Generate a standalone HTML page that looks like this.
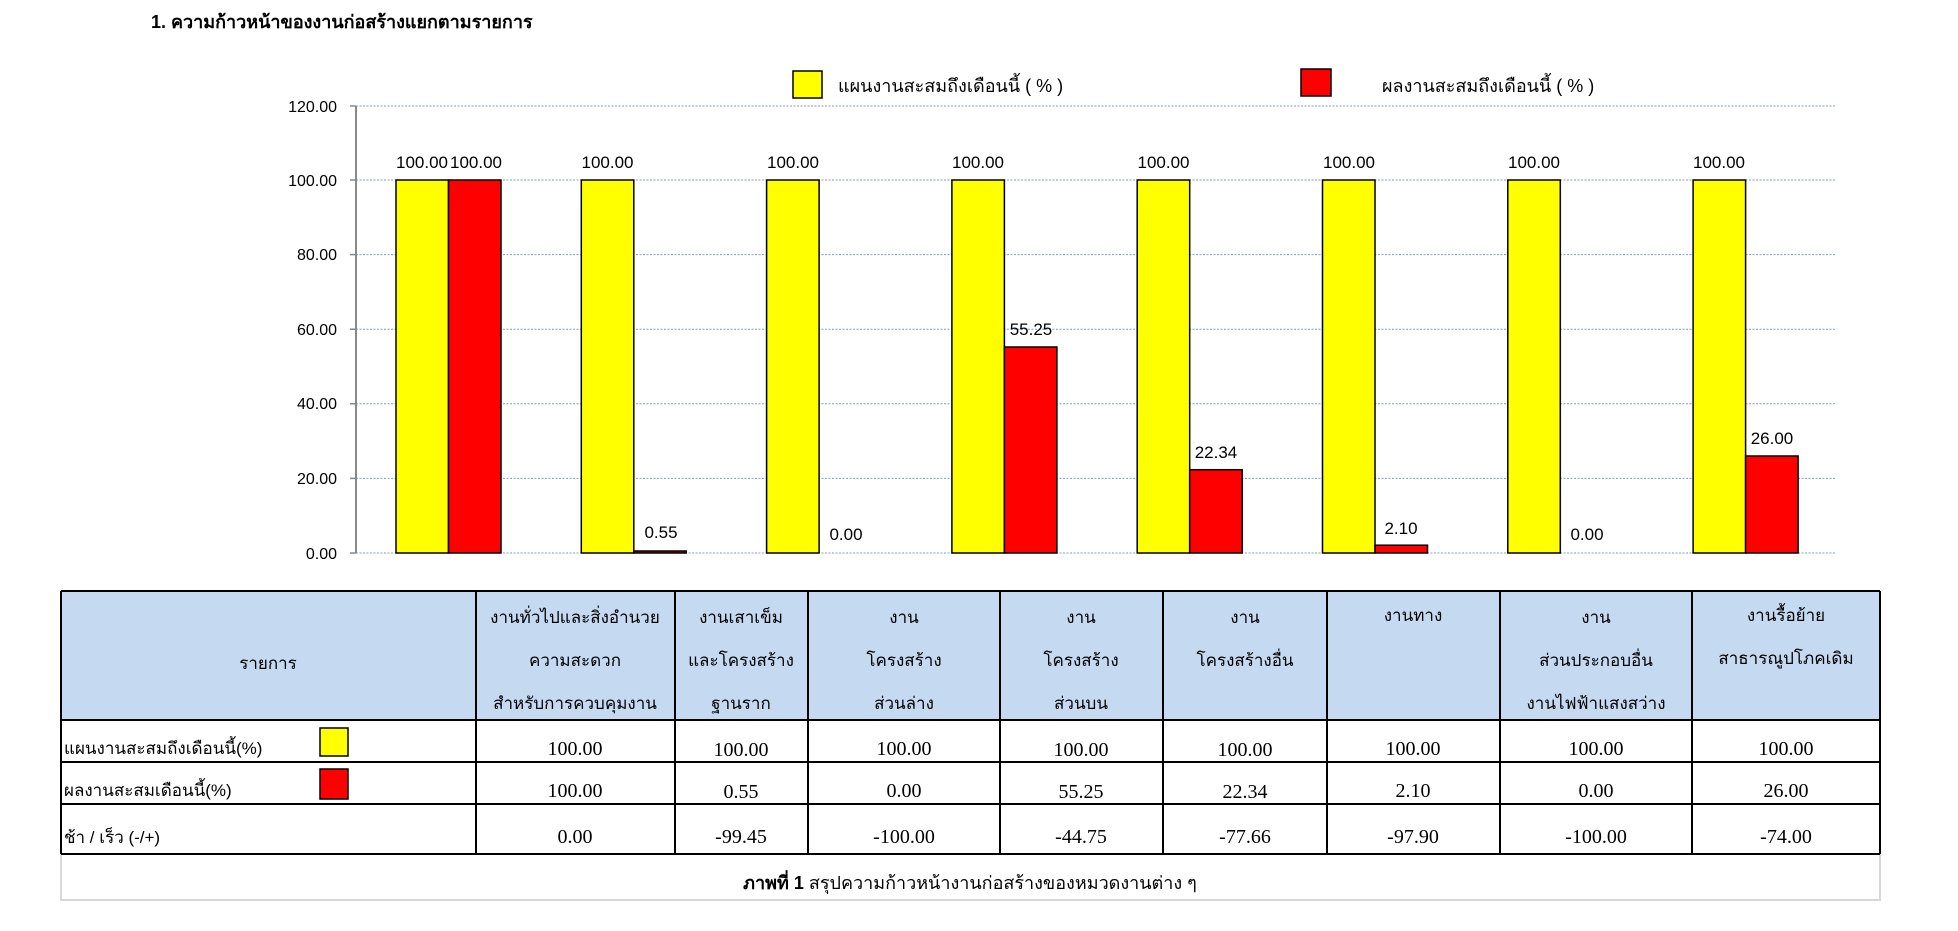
<!DOCTYPE html>
<html><head><meta charset="utf-8"><style>
html,body{margin:0;padding:0;background:#fff;}
svg{display:block;font-family:"Liberation Sans","DejaVu Sans",sans-serif;}
.t{font-family:"Liberation Serif","DejaVu Sans",serif;}
</style></head><body>
<svg width="1958" height="931" viewBox="0 0 1958 931" xmlns="http://www.w3.org/2000/svg">
<text x="151" y="28" font-size="18" font-weight="bold" fill="#000">1. ความก้าวหน้าของงานก่อสร้างแยกตามรายการ</text>
<rect x="793" y="71" width="29" height="27" fill="#ffff00" stroke="#000" stroke-width="1.5"/>
<text x="838" y="92" font-size="18">แผนงานสะสมถึงเดือนนี้ ( % )</text>
<rect x="1301" y="69" width="30" height="27" fill="#ff0000" stroke="#000" stroke-width="1.5"/>
<text x="1382" y="92" font-size="18">ผลงานสะสมถึงเดือนนี้ ( % )</text>
<g stroke="#7f9fbf" stroke-width="1" stroke-dasharray="2,1.5">
<line x1="356" y1="106" x2="1836" y2="106"/>
<line x1="356" y1="180" x2="1836" y2="180"/>
<line x1="356" y1="254.6" x2="1836" y2="254.6"/>
<line x1="356" y1="329.2" x2="1836" y2="329.2"/>
<line x1="356" y1="403.8" x2="1836" y2="403.8"/>
<line x1="356" y1="478.4" x2="1836" y2="478.4"/>
<line x1="356" y1="553" x2="1836" y2="553"/>
</g>
<line x1="356" y1="106" x2="356" y2="553" stroke="#888" stroke-width="2"/>
<g stroke="#888" stroke-width="1.5">
<line x1="350" y1="106" x2="356" y2="106"/><line x1="350" y1="180" x2="356" y2="180"/><line x1="350" y1="254.6" x2="356" y2="254.6"/><line x1="350" y1="329.2" x2="356" y2="329.2"/><line x1="350" y1="403.8" x2="356" y2="403.8"/><line x1="350" y1="478.4" x2="356" y2="478.4"/><line x1="350" y1="553" x2="356" y2="553"/>
</g>
<g font-size="16" text-anchor="end">
<text x="337" y="112">120.00</text><text x="337" y="186">100.00</text><text x="337" y="260">80.00</text><text x="337" y="335">60.00</text><text x="337" y="409">40.00</text><text x="337" y="484">20.00</text><text x="337" y="559">0.00</text>
</g>
<g stroke="#000" stroke-width="1.5">
<rect x="396" y="180" width="52.5" height="373" fill="#ffff00"/><rect x="448.5" y="180" width="52.5" height="373" fill="#ff0000"/>
<rect x="581.3" y="180" width="52.5" height="373" fill="#ffff00"/><rect x="633.8" y="551" width="52.5" height="2" fill="#ff0000"/>
<rect x="766.6" y="180" width="52.5" height="373" fill="#ffff00"/>
<rect x="951.9" y="180" width="52.5" height="373" fill="#ffff00"/><rect x="1004.4" y="347" width="52.5" height="206" fill="#ff0000"/>
<rect x="1137.2" y="180" width="52.5" height="373" fill="#ffff00"/><rect x="1189.7" y="469.7" width="52.5" height="83.3" fill="#ff0000"/>
<rect x="1322.5" y="180" width="52.5" height="373" fill="#ffff00"/><rect x="1375" y="545.2" width="52.5" height="7.8" fill="#ff0000"/>
<rect x="1507.8" y="180" width="52.5" height="373" fill="#ffff00"/>
<rect x="1693.1" y="180" width="52.5" height="373" fill="#ffff00"/><rect x="1745.6" y="456" width="52.5" height="97" fill="#ff0000"/>
</g>
<g font-size="17" text-anchor="middle">
<text x="422" y="168">100.00</text><text x="476" y="168">100.00</text>
<text x="607.5" y="168">100.00</text><text x="661" y="538">0.55</text>
<text x="793" y="168">100.00</text><text x="846" y="540">0.00</text>
<text x="978" y="168">100.00</text><text x="1031" y="335">55.25</text>
<text x="1163.5" y="168">100.00</text><text x="1216" y="458">22.34</text>
<text x="1349" y="168">100.00</text><text x="1401" y="534">2.10</text>
<text x="1534" y="168">100.00</text><text x="1587" y="540">0.00</text>
<text x="1719" y="168">100.00</text><text x="1772" y="444">26.00</text>
</g>
<rect x="61" y="591" width="1819" height="129" fill="#c5d9f1"/>
<rect x="61" y="720" width="1819" height="180" fill="none" stroke="#d8d8d8" stroke-width="2"/>
<g stroke="#000" stroke-width="2" fill="none">
<line x1="61" y1="591" x2="1880" y2="591"/>
<line x1="61" y1="720" x2="1880" y2="720"/>
<line x1="61" y1="762" x2="1880" y2="762"/>
<line x1="61" y1="804" x2="1880" y2="804"/>
<line x1="61" y1="854" x2="1880" y2="854"/>
<line x1="61" y1="591" x2="61" y2="854"/>
<line x1="1880" y1="591" x2="1880" y2="854"/>
<line x1="476" y1="591" x2="476" y2="854"/>
<line x1="675" y1="591" x2="675" y2="854"/>
<line x1="808" y1="591" x2="808" y2="854"/>
<line x1="1000" y1="591" x2="1000" y2="854"/>
<line x1="1163" y1="591" x2="1163" y2="854"/>
<line x1="1327" y1="591" x2="1327" y2="854"/>
<line x1="1500" y1="591" x2="1500" y2="854"/>
<line x1="1692" y1="591" x2="1692" y2="854"/>
</g>
<g font-size="17" text-anchor="middle">
<text x="268" y="669">รายการ</text>
<text x="575" y="623">งานทั่วไปและสิ่งอำนวย</text><text x="575" y="666">ความสะดวก</text><text x="575" y="709">สำหรับการควบคุมงาน</text>
<text x="741" y="623">งานเสาเข็ม</text><text x="741" y="666">และโครงสร้าง</text><text x="741" y="709">ฐานราก</text>
<text x="904" y="623">งาน</text><text x="904" y="666">โครงสร้าง</text><text x="904" y="709">ส่วนล่าง</text>
<text x="1081" y="623">งาน</text><text x="1081" y="666">โครงสร้าง</text><text x="1081" y="709">ส่วนบน</text>
<text x="1245" y="623">งาน</text><text x="1245" y="666">โครงสร้างอื่น</text>
<text x="1413" y="621">งานทาง</text>
<text x="1596" y="623">งาน</text><text x="1596" y="666">ส่วนประกอบอื่น</text><text x="1596" y="709">งานไฟฟ้าแสงสว่าง</text>
<text x="1786" y="621">งานรื้อย้าย</text><text x="1786" y="664">สาธารณูปโภคเดิม</text>
</g>
<g font-size="17">
<text x="64" y="754">แผนงานสะสมถึงเดือนนี้(%)</text>
<text x="64" y="796">ผลงานสะสมเดือนนี้(%)</text>
<text x="64" y="843">ช้า / เร็ว  (-/+)</text>
</g>
<rect x="320" y="728" width="28" height="28" fill="#ffff00" stroke="#000" stroke-width="1.5"/>
<rect x="320" y="769" width="28" height="30" fill="#ff0000" stroke="#000" stroke-width="1.5"/>
<g class="t" font-size="20" text-anchor="middle">
<text x="575" y="755">100.00</text><text x="741" y="756">100.00</text><text x="904" y="755">100.00</text><text x="1081" y="756">100.00</text><text x="1245" y="756">100.00</text><text x="1413" y="755">100.00</text><text x="1596" y="755">100.00</text><text x="1786" y="755">100.00</text>
<text x="575" y="797">100.00</text><text x="741" y="798">0.55</text><text x="904" y="797">0.00</text><text x="1081" y="798">55.25</text><text x="1245" y="798">22.34</text><text x="1413" y="797">2.10</text><text x="1596" y="797">0.00</text><text x="1786" y="797">26.00</text>
<text x="575" y="843">0.00</text><text x="741" y="843">-99.45</text><text x="904" y="843">-100.00</text><text x="1081" y="843">-44.75</text><text x="1245" y="843">-77.66</text><text x="1413" y="843">-97.90</text><text x="1596" y="843">-100.00</text><text x="1786" y="843">-74.00</text>
</g>
<text x="970" y="889" font-size="18" text-anchor="middle"><tspan font-weight="bold">ภาพที่ 1</tspan> สรุปความก้าวหน้างานก่อสร้างของหมวดงานต่าง ๆ</text>
</svg>
</body></html>
